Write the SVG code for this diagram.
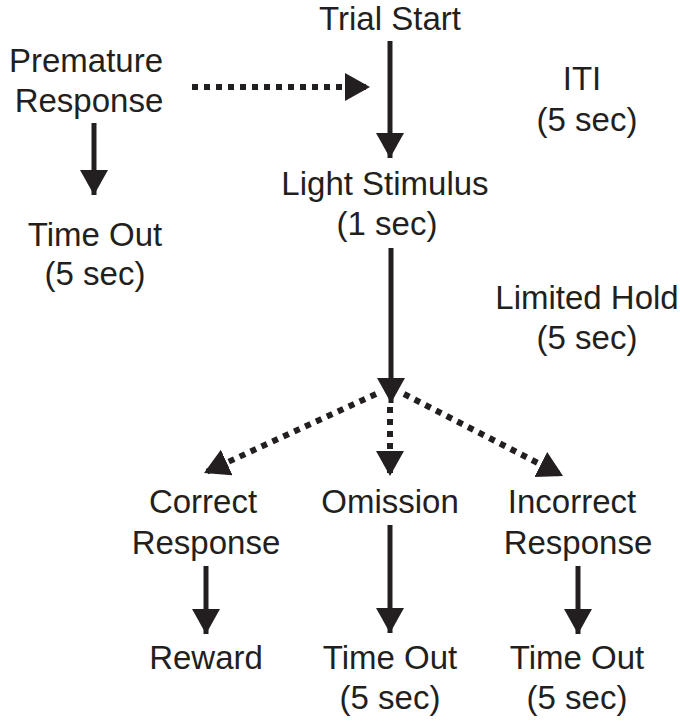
<svg xmlns="http://www.w3.org/2000/svg" width="680" height="721" viewBox="0 0 680 721">
<style>
text{font-family:"Liberation Sans",Arial,sans-serif;font-size:33px;fill:#231f20;text-anchor:middle}
.s{stroke:#231f20;stroke-width:5;fill:none}
.d{stroke:#231f20;stroke-width:6;fill:none;stroke-dasharray:6 6}
</style>
<defs>
<marker id="ah" markerUnits="userSpaceOnUse" markerWidth="26" markerHeight="30" refX="25" refY="14" orient="auto" viewBox="0 0 26 30">
<path d="M0,0 L25,14 L0,28 z" fill="#231f20"/>
</marker>
</defs>
<rect width="680" height="721" fill="#fff"/>
<g id="trial-start"><text x="390" y="30">Trial Start</text></g>
<g id="premature"><text x="86" y="72">Premature</text><text x="89" y="112">Response</text></g>
<g id="iti"><text x="582" y="90">ITI</text><text x="587" y="131">(5 sec)</text></g>
<g id="light"><text x="385" y="195">Light Stimulus</text><text x="387" y="235">(1 sec)</text></g>
<g id="timeout1"><text x="95" y="246">Time Out</text><text x="95" y="285">(5 sec)</text></g>
<g id="hold"><text x="587" y="309">Limited Hold</text><text x="587" y="349">(5 sec)</text></g>
<g id="correct"><text x="203" y="513">Correct</text><text x="206" y="554">Response</text></g>
<g id="omission"><text x="390" y="513">Omission</text></g>
<g id="incorrect"><text x="572" y="513">Incorrect</text><text x="578" y="554">Response</text></g>
<g id="reward"><text x="206" y="669">Reward</text></g>
<g id="timeout2"><text x="390" y="669">Time Out</text><text x="390" y="709">(5 sec)</text></g>
<g id="timeout3"><text x="577" y="669">Time Out</text><text x="577" y="709">(5 sec)</text></g>
<g id="connectors">
<line class="d" x1="192" y1="87" x2="370" y2="87" marker-end="url(#ah)"/>
<line class="s" x1="390" y1="41" x2="390" y2="158" marker-end="url(#ah)"/>
<line class="s" x1="94" y1="123" x2="94" y2="195" marker-end="url(#ah)"/>
<line class="s" x1="391" y1="248" x2="391" y2="403" marker-end="url(#ah)"/>
<line class="d" x1="376" y1="394" x2="204" y2="473" marker-end="url(#ah)"/>
<line class="d" x1="390" y1="407" x2="390" y2="476" marker-end="url(#ah)"/>
<line class="d" x1="404" y1="394" x2="563" y2="476" marker-end="url(#ah)"/>
<line class="s" x1="206" y1="566" x2="206" y2="634" marker-end="url(#ah)"/>
<line class="s" x1="390" y1="525" x2="390" y2="633" marker-end="url(#ah)"/>
<line class="s" x1="578" y1="566" x2="578" y2="634" marker-end="url(#ah)"/>
</g>
</svg>
